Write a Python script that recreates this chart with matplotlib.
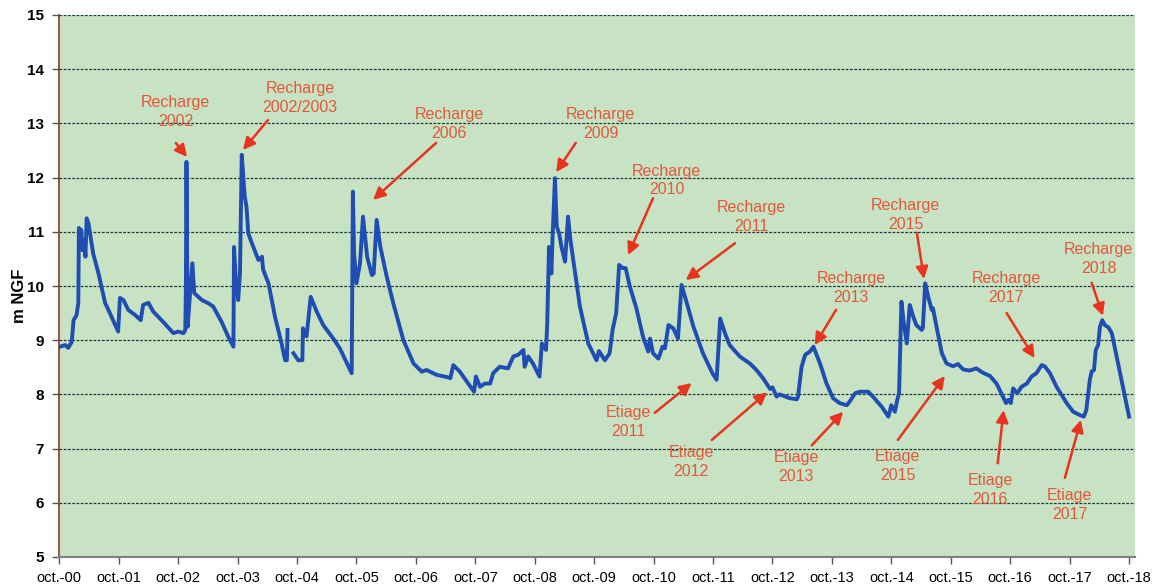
import numpy as np
import matplotlib
matplotlib.use("Agg")
import matplotlib.pyplot as plt

plt.rcParams['font.family'] = ['Liberation Sans', 'DejaVu Sans']

# Time in years since October 2000, groundwater level in m NGF
years = [0.01, 0.10, 0.15, 0.21, 0.24, 0.29, 0.32, 0.33, 0.37, 0.39, 0.42, 0.44, 0.46, 0.49,
         0.57, 0.66, 0.77, 0.88, 0.99, 1.02, 1.08, 1.16, 1.27, 1.37, 1.41, 1.50, 1.58, 1.72,
         1.92, 2.00, 2.09, 2.12, 2.13, 2.14, 2.16, 2.20, 2.24, 2.27, 2.31, 2.40, 2.51, 2.59,
         2.73, 2.84, 2.93, 2.94, 2.97, 3.01, 3.04, 3.07, 3.10, 3.12, 3.15, 3.18, 3.24, 3.35,
         3.41, 3.43, 3.52, 3.63, 3.74, 3.80, 3.83, 3.84, 3.89,
         3.94, 4.02, 4.09, 4.10, 4.16, 4.23, 4.33, 4.44, 4.61, 4.72, 4.92, 4.94, 4.96, 5.00,
         5.06, 5.11, 5.18, 5.26, 5.29, 5.34, 5.40, 5.51, 5.62, 5.79, 5.96, 6.10, 6.18, 6.35,
         6.52, 6.58, 6.63, 6.74, 6.88, 6.98, 7.01, 7.08, 7.16, 7.25, 7.30, 7.41, 7.55, 7.64,
         7.72, 7.81, 7.83, 7.89, 7.97, 8.08, 8.12, 8.19, 8.21, 8.24, 8.28, 8.30, 8.34, 8.37,
         8.41, 8.45, 8.51, 8.56, 8.60, 8.68, 8.76, 8.90, 9.04, 9.08, 9.18, 9.26, 9.31, 9.37,
         9.42, 9.48, 9.53, 9.60, 9.71, 9.82, 9.91, 9.94, 9.99, 10.08, 10.15, 10.19, 10.25,
         10.33, 10.41, 10.47, 10.56, 10.67, 10.83, 10.99, 11.06, 11.12, 11.20, 11.28, 11.45,
         11.62, 11.73, 11.84, 11.96, 12.00, 12.07, 12.12, 12.29, 12.41, 12.43, 12.49, 12.55,
         12.63, 12.69, 12.71, 12.80, 12.91, 13.02, 13.13, 13.25, 13.30, 13.39, 13.47, 13.61,
         13.69, 13.84, 13.95, 14.00, 14.06, 14.10, 14.13, 14.17, 14.21, 14.26, 14.31, 14.37,
         14.42, 14.51, 14.53, 14.57, 14.62, 14.68, 14.70, 14.76, 14.85, 14.93, 15.04, 15.12,
         15.21, 15.32, 15.43, 15.54, 15.66, 15.77, 15.85, 15.93, 15.97, 16.01, 16.05, 16.12,
         16.19, 16.28, 16.36, 16.44, 16.53, 16.58, 16.67, 16.78, 16.95, 17.06, 17.17, 17.24,
         17.28, 17.34, 17.37, 17.41, 17.44, 17.48, 17.51, 17.55, 17.59, 17.65, 17.71, 17.85,
         18.00]
levels = [8.88, 8.91, 8.86, 8.97, 9.37, 9.46, 9.69, 11.07, 11.03, 10.66, 10.85, 10.54, 11.25, 11.16,
          10.60, 10.23, 9.69, 9.43, 9.16, 9.78, 9.74, 9.56, 9.47, 9.37, 9.65, 9.69, 9.53, 9.37,
          9.13, 9.16, 9.13, 9.19, 9.99, 12.29, 9.25, 9.87, 10.42, 9.87, 9.83, 9.74, 9.68, 9.62,
          9.34, 9.07, 8.88, 10.72, 10.11, 9.74, 10.23, 12.42, 11.96, 11.65, 11.46, 10.97, 10.79, 10.48,
          10.54, 10.30, 10.05, 9.43, 8.94, 8.63, 8.63, 9.19, np.nan,
          8.76, 8.63, 8.63, 9.22, 9.07, 9.80, 9.53, 9.28, 9.03, 8.85, 8.39, 11.74, 10.60, 10.05,
          10.42, 11.28, 10.54, 10.20, 10.23, 11.22, 10.73, 10.17, 9.68, 9.00, 8.57, 8.42, 8.45, 8.36,
          8.32, 8.30, 8.54, 8.42, 8.20, 8.05, 8.33, 8.14, 8.20, 8.20, 8.39, 8.51, 8.48, 8.70,
          8.73, 8.82, 8.51, 8.70, 8.57, 8.33, 8.94, 8.82, 9.31, 10.72, 10.23, 10.91, 11.99, 11.10,
          10.97, 10.72, 10.45, 11.28, 10.85, 10.23, 9.62, 8.94, 8.63, 8.80, 8.63, 8.76, 9.19, 9.50,
          10.39, 10.33, 10.33, 9.99, 9.59, 9.07, 8.79, 9.03, 8.76, 8.66, 8.88, 8.85, 9.28,
          9.22, 9.03, 10.02, 9.68, 9.25, 8.76, 8.39, 8.27, 9.40, 9.13, 8.91, 8.70,
          8.57, 8.45, 8.30, 8.10, 8.13, 7.96, 8.00, 7.93, 7.91, 7.96, 8.51, 8.73,
          8.79, 8.88, 8.82, 8.57, 8.20, 7.93, 7.84, 7.80, 7.87, 8.02, 8.05, 8.05,
          7.96, 7.77, 7.59, 7.80, 7.68, 7.90, 8.02, 9.71, 9.31, 8.94, 9.65, 9.43,
          9.28, 9.19, 9.22, 10.05, 9.80, 9.56, 9.59, 9.25, 8.76, 8.57, 8.52, 8.56,
          8.46, 8.44, 8.48, 8.40, 8.34, 8.20, 8.02, 7.84, 7.90, 7.84, 8.11, 8.02,
          8.14, 8.20, 8.33, 8.39, 8.54, 8.52, 8.39, 8.14, 7.84, 7.68, 7.62, 7.59,
          7.71, 8.27, 8.42, 8.45, 8.82, 8.91, 9.25, 9.37, 9.28, 9.24, 9.13, 8.39,
          7.59]

tick_years = list(range(0, 19))
tick_labels = ["oct.-%02d" % (y % 100) for y in tick_years]

ann_labels = ["Recharge\n2002", "Recharge\n2002/2003", "Recharge\n2006", "Recharge\n2009",
              "Recharge\n2010", "Recharge\n2011", "Recharge\n2013", "Recharge\n2015",
              "Recharge\n2017", "Recharge\n2018", "Etiage\n2011", "Etiage\n2012",
              "Etiage\n2013", "Etiage\n2015", "Etiage\n2016", "Etiage\n2017"]
ann_text_x = [1.96, 4.05, 6.56, 9.11, 10.22, 11.65, 13.32, 14.24, 15.93, 17.49, 9.58, 10.63,
              12.40, 14.11, 15.66, 17.00]
ann_text_y = [13.21, 13.47, 12.99, 12.99, 11.95, 11.27, 9.96, 11.31, 9.96, 10.50, 7.49, 6.75,
              6.66, 6.68, 6.24, 5.96]
ann_tail_x = [1.96, 3.51, 6.34, 8.69, 9.99, 11.37, 13.07, 14.43, 15.94, 17.37, 10.02, 10.98,
              12.66, 14.11, 15.79, 16.92]
ann_tail_y = [12.64, 13.06, 12.64, 12.64, 11.62, 10.79, 9.56, 10.98, 9.50, 10.06, 7.66, 7.16,
              7.06, 7.16, 6.73, 6.46]
ann_head_x = [2.15, 3.09, 5.28, 8.36, 9.57, 10.54, 12.71, 14.55, 16.41, 17.56, 10.64, 11.91,
              13.19, 14.90, 15.89, 17.19]
ann_head_y = [12.38, 12.51, 11.59, 12.10, 10.57, 10.11, 8.91, 10.13, 8.67, 9.45, 8.21, 8.04,
              7.68, 8.34, 7.71, 7.53]

fig = plt.figure(figsize=(11.52, 5.88), dpi=100)
ax = fig.add_axes([59.3 / 1152, 31 / 588, (1135 - 59.3) / 1152, (557 - 15) / 588])
ax.set_facecolor('#C7E3C4')

for g in range(6, 16):
    ax.axhline(g, color='#1d3b3b', lw=0.9, ls=(0, (2.2, 1.2)), zorder=1)

ax.plot(years, levels, color='#1F4DB3', lw=2.8, solid_joinstyle='round', zorder=3)

ax.set_xlim(0, 18.1)
ax.set_ylim(5, 15)
ax.set_yticks(range(5, 16))
ax.set_yticklabels([str(v) for v in range(5, 16)], fontsize=11, fontweight='bold')
ax.set_xticks(tick_years)
ax.set_xticklabels(tick_labels, fontsize=10.5)
ax.tick_params(axis='y', length=5, width=1, color='#555555', pad=6)
ax.tick_params(axis='x', length=5, width=1, color='#555555', pad=5)

for s in ['top', 'right']:
    ax.spines[s].set_visible(False)
ax.spines['left'].set_color('#8a3a2a')
ax.spines['left'].set_linewidth(1.2)
ax.spines['bottom'].set_color('#7f7f7f')
ax.spines['bottom'].set_linewidth(1.5)

fig.text(19 / 1152, 1 - 296 / 588, 'm NGF', rotation=90, ha='center', va='center',
         fontsize=12, fontweight='bold')

txt_color = '#E4573A'
arr_color = '#E8331F'
for lab, tx, ty, ax0, ay0, hx, hy in zip(ann_labels, ann_text_x, ann_text_y,
                                         ann_tail_x, ann_tail_y, ann_head_x, ann_head_y):
    ax.text(tx, ty, lab, ha='center', va='center', fontsize=11.5, color=txt_color,
            linespacing=1.3, zorder=5)
    ax.annotate('', xy=(hx, hy), xytext=(ax0, ay0),
                arrowprops=dict(arrowstyle='-|>', color=arr_color, lw=1.8,
                                mutation_scale=18, shrinkA=0, shrinkB=0), zorder=5)

fig.savefig('out.png', dpi=100, facecolor='white')
